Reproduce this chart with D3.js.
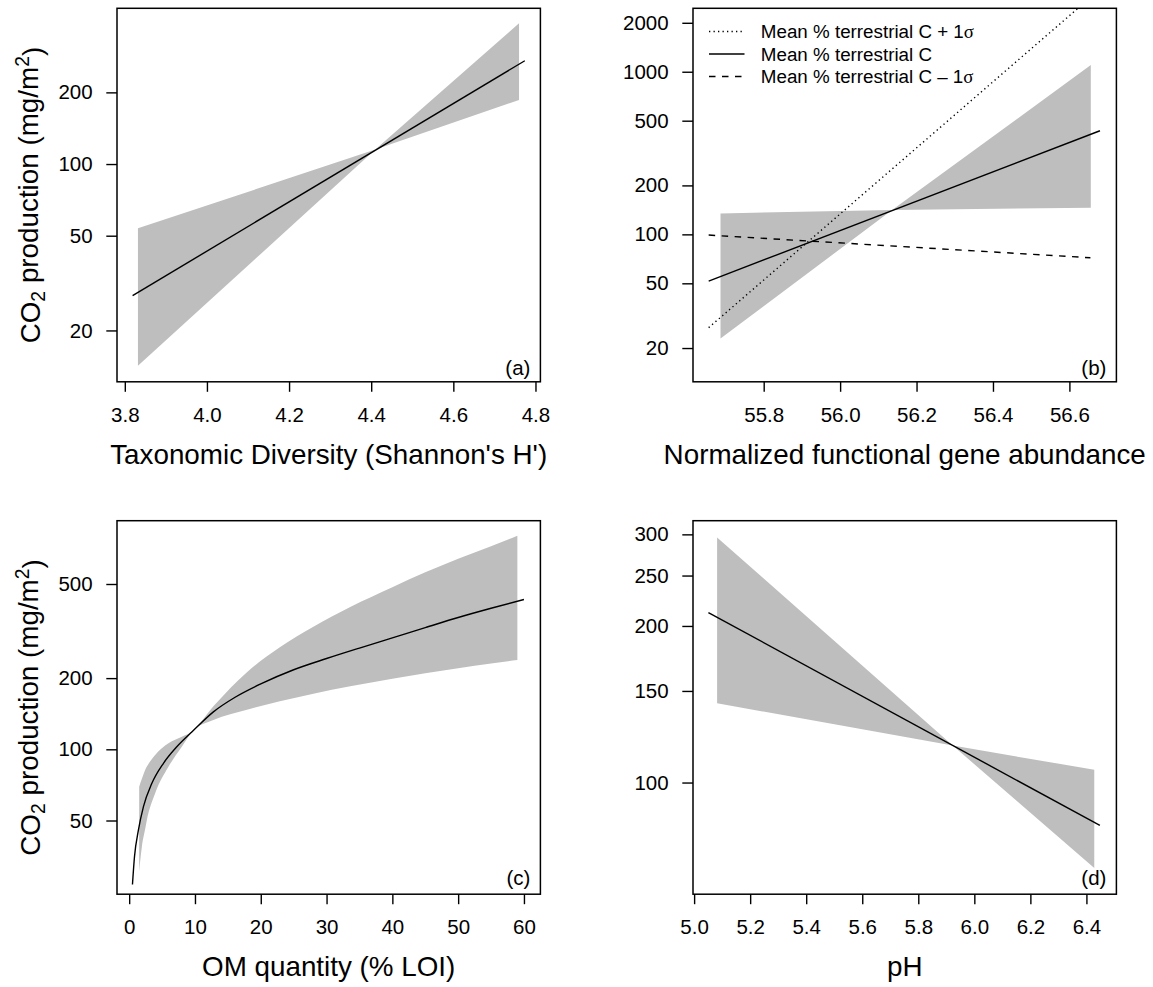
<!DOCTYPE html>
<html>
<head>
<meta charset="utf-8">
<script src="https://cdn.jsdelivr.net/npm/d3@7"></script>
<style>
  body { margin: 0; background: #fff; }
  svg text { font-family: "Liberation Sans", Arial, Helvetica, sans-serif; fill: #000; }
</style>
</head>
<body>
<svg id="chart" width="1153" height="987"></svg>
<script>
// (a) taxonomic diversity
const divX = [3.819, 4.774];
const divY = [28.0, 271.6];
const divBandX = [3.832, 4.41, 4.760];
const divBandLo = [14.2, 115, 185.8];
const divBandHi = [53.7, 115, 390];
const divXTicks = [3.8, 4.0, 4.2, 4.4, 4.6, 4.8];
const divYTicks = [20, 50, 100, 200];

// (b) functional gene abundance, three terrestrial C levels
const geneX = [55.656, 56.680];
const geneMeanY = [51.6, 433.6];
const genePlusX = [55.656, 56.622];
const genePlusY = [26.7, 2450];
const geneMinusX = [55.656, 56.655];
const geneMinusY = [99.0, 71.8];
const geneBandX = [55.687, 56.136, 56.656];
const geneBandLo = [22.9, 141, 145.8];
const geneBandHi = [134.6, 141, 1099];
const geneXTicks = [55.8, 56.0, 56.2, 56.4, 56.6];
const geneYTicks = [20, 50, 100, 200, 500, 1000, 2000];
const legendLabels = ["Mean % terrestrial C + 1", "Mean % terrestrial C", "Mean % terrestrial C \u2013 1"];

// (c) OM quantity
const omX = [0.5, 0.81, 1.41, 2.17, 3.45, 5.21, 7.24, 9.6, 12.8, 16.1, 20, 25, 30, 35, 40, 45, 50, 55, 60];
const omY = [26.8, 35.2, 45.6, 57.2, 71.8, 87.3, 102.5, 119, 144, 166, 189, 217, 242, 268, 296, 327, 361, 395, 430];
const omBandX = [1.52, 1.93, 2.43, 2.69, 3.95, 5.97, 8.0, 9.6, 12.8, 17.9, 22.9, 28, 33.6, 40, 45, 50, 55, 59];
const omBandLo = [30.4, 38.7, 46, 50.2, 65.2, 84.4, 102.5, 119, 133, 147, 159.6, 171.8, 184.7, 198.9, 209.7, 220.3, 230.7, 238.8];
const omBandHi = [69.5, 75, 81.8, 84.5, 94.6, 106, 113, 119, 152, 212, 270, 330, 400, 485, 560, 640, 722, 800];
const omXTicks = [0, 10, 20, 30, 40, 50, 60];
const omYTicks = [50, 100, 200, 500];

// (d) pH
const phX = [5.051, 6.448];
const phY = [212.2, 82.7];
const phBandX = [5.082, 5.923, 6.428];
const phBandLo = [142, 117.8, 68.5];
const phBandHi = [296, 117.8, 105.8];
const phXTicks = [5.0, 5.2, 5.4, 5.6, 5.8, 6.0, 6.2, 6.4];
const phYTicks = [100, 150, 200, 250, 300];

const fmt1 = d3.format(".1f");

const panels = [
  { col: 0, row: 0, label: "(a)", labelY: 368, curve: d3.curveLinear,
    xDomain: [3.781, 4.812], yDomain: [12.17, 451],
    xTicks: divXTicks, yTicks: divYTicks, xFmt: fmt1,
    xTitle: "Taxonomic Diversity (Shannon's H')", yTitle: true,
    band: [divBandX, divBandLo, divBandHi],
    lines: [{ x: divX, y: divY, dash: null }] },
  { col: 1, row: 0, label: "(b)", labelY: 368, curve: d3.curveLinear,
    xDomain: [55.615, 56.723], yDomain: [12.4, 2455],
    xTicks: geneXTicks, yTicks: geneYTicks, xFmt: fmt1,
    xTitle: "Normalized functional gene abundance", yTitle: false,
    band: [geneBandX, geneBandLo, geneBandHi],
    lines: [
      { x: genePlusX, y: genePlusY, dash: "1.3 3.2" },
      { x: geneX, y: geneMeanY, dash: null },
      { x: geneMinusX, y: geneMinusY, dash: "6.5 6.5" }
    ] },
  { col: 0, row: 1, label: "(c)", labelY: 878, curve: d3.curveMonotoneX,
    xDomain: [-1.85, 62.5], yDomain: [24.4, 926],
    xTicks: omXTicks, yTicks: omYTicks, xFmt: d3.format("d"),
    xTitle: "OM quantity (% LOI)", yTitle: true,
    band: [omBandX, omBandLo, omBandHi],
    lines: [{ x: omX, y: omY, dash: null }] },
  { col: 1, row: 1, label: "(d)", labelY: 878, curve: d3.curveLinear,
    xDomain: [4.996, 6.507], yDomain: [61.0, 318.7],
    xTicks: phXTicks, yTicks: phYTicks, xFmt: fmt1,
    xTitle: "pH", yTitle: false,
    band: [phBandX, phBandLo, phBandHi],
    lines: [{ x: phX, y: phY, dash: null }] }
];

const svg = d3.select("#chart");
const TICK_FONT = 20.5, TITLE_FONT = 27.8;

panels.forEach((p, i) => {
  const ox = p.col * 576;
  const left = ox + 117, right = ox + 540.4;
  const top = p.row ? 520.7 : 8.3, bottom = top + 373.5;

  const x = d3.scaleLinear().domain(p.xDomain).range([left, right]);
  const y = d3.scaleLog().domain(p.yDomain).range([bottom, top]);
  const g = svg.append("g");

  g.append("clipPath").attr("id", "clip" + i)
    .append("rect")
    .attr("x", left).attr("y", top)
    .attr("width", right - left).attr("height", bottom - top);

  const plot = g.append("g").attr("clip-path", `url(#clip${i})`);

  const area = d3.area()
    .x(d => x(d[0])).y0(d => y(d[1])).y1(d => y(d[2]))
    .curve(p.curve);
  plot.append("path")
    .datum(d3.zip(...p.band))
    .attr("d", area)
    .attr("fill", "#bebebe");

  const line = d3.line().x(d => x(d[0])).y(d => y(d[1])).curve(p.curve);
  p.lines.forEach(l => {
    plot.append("path")
      .datum(d3.zip(l.x, l.y))
      .attr("d", line)
      .attr("fill", "none")
      .attr("stroke", "#000")
      .attr("stroke-width", 1.4)
      .attr("stroke-dasharray", l.dash);
  });

  // axes
  const xAxis = g.append("g")
    .attr("transform", `translate(0,${bottom})`)
    .call(d3.axisBottom(x).tickValues(p.xTicks).tickFormat(p.xFmt).tickSize(10).tickPadding(15.6));
  const yAxis = g.append("g")
    .attr("transform", `translate(${left},0)`)
    .call(d3.axisLeft(y).tickValues(p.yTicks).tickFormat(d3.format("d")).tickSize(10.7).tickPadding(13.7));
  [xAxis, yAxis].forEach(a => {
    a.attr("font-size", null).attr("font-family", null);
    a.select(".domain").remove();
    a.selectAll(".tick line").attr("stroke", "#000").attr("stroke-width", 1.4);
    a.selectAll(".tick text").style("font-size", TICK_FONT + "px");
  });

  g.append("rect")
    .attr("x", left).attr("y", top)
    .attr("width", right - left).attr("height", bottom - top)
    .attr("fill", "none").attr("stroke", "#000").attr("stroke-width", 1.5);

  g.append("text")
    .attr("x", right - 10).attr("y", p.labelY).attr("dy", "0.35em")
    .attr("text-anchor", "end")
    .style("font-size", TICK_FONT + "px")
    .text(p.label);

  g.append("text")
    .attr("x", (left + right) / 2).attr("y", bottom + 82)
    .attr("text-anchor", "middle")
    .style("font-size", TITLE_FONT + "px")
    .text(p.xTitle);

  if (p.yTitle) {
    const t = g.append("text")
      .attr("transform", `translate(40,${(top + bottom) / 2}) rotate(-90)`)
      .attr("text-anchor", "middle")
      .style("font-size", TITLE_FONT + "px");
    t.append("tspan").text("CO");
    t.append("tspan").attr("dy", "0.25em").style("font-size", "0.7em").text("2");
    t.append("tspan").attr("dy", "-0.25em").text(" production (mg/m");
    t.append("tspan").attr("dy", "-0.45em").style("font-size", "0.7em").text("2");
    t.append("tspan").attr("dy", "0.45em").text(")");
  }

  if (p.col === 1 && p.row === 0) {
    const dashes = ["1.3 3.2", null, "6.5 6.5"];
    const lg = g.append("g");
    legendLabels.forEach((lab, k) => {
      const ly = 31.5 + k * 22.5;
      lg.append("line")
        .attr("x1", ox + 133).attr("x2", ox + 168.5)
        .attr("y1", ly).attr("y2", ly)
        .attr("stroke", "#000").attr("stroke-width", 1.4)
        .attr("stroke-dasharray", dashes[k]);
      const t = lg.append("text")
        .attr("x", ox + 184.8).attr("y", ly).attr("dy", "0.35em")
        .style("font-size", "18.8px")
        .text(lab);
      if (k !== 1) t.append("tspan").style("font-family", "'Liberation Serif', 'DejaVu Serif', serif").text("\u03c3");
    });
  }
});
</script>
</body>
</html>
